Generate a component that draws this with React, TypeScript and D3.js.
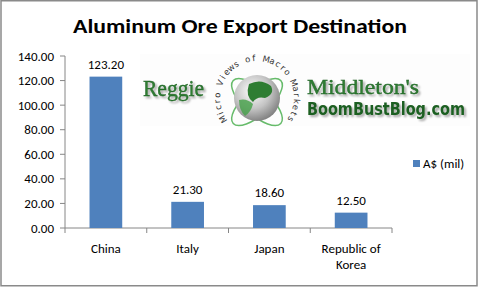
import React from "react";
import * as d3 from "d3";

const categories = ["China", "Italy", "Japan", "Republic of Korea"];
const values = [123.2, 21.3, 18.6, 12.5];
const yTicks = [0, 20, 40, 60, 80, 100, 120, 140];
const seriesName = "A$ (mil)";
const title = "Aluminum Ore Export Destination";
const logoTagline = "Micro Views of Macro Markets";

const W = 480;
const H = 287;
const FONT = "Carlito, Lato, 'Open Sans', sans-serif";
const FS = 13;

export default function App() {
  const x = d3.scaleBand<string>().domain(categories).range([65, 392]).paddingInner(0.6).paddingOuter(0.3);
  const y = d3.scaleLinear().domain([0, 140]).range([228, 56]);
  const step = x.step();
  const blue = "#4f81bd";
  const green = "#2e7d32";
  const cx = 257, cy = 98;
  const arcR = 37;
  const chars = logoTagline.split("");
  const angScale = d3.scaleLinear().domain([0, chars.length - 1]).range([212, -32]);

  return (
    <svg width={W} height={H} style={{ position: "absolute", left: 0, top: 0, background: "#fff" }}>
      <defs>
        <radialGradient id="globe" cx="40%" cy="35%" r="70%">
          <stop offset="0%" stopColor="#ffffff" />
          <stop offset="55%" stopColor="#c4c4c4" />
          <stop offset="100%" stopColor="#7a7a7a" />
        </radialGradient>
        <filter id="shadow" x="-20%" y="-40%" width="140%" height="180%">
          <feGaussianBlur in="SourceAlpha" stdDeviation="1" />
          <feOffset dx="1.5" dy="1.5" result="b" />
          <feComponentTransfer><feFuncA type="linear" slope="0.35" /></feComponentTransfer>
          <feMerge><feMergeNode /><feMergeNode in="SourceGraphic" /></feMerge>
        </filter>
      </defs>
      <rect x={0} y={0} width={W} height={H} fill="#fff" />
      <rect x={1} y={0.75} width={476} height={285} fill="none" stroke="#8a8a8a" strokeWidth={1.5} />

      <text x={240} y={33} textAnchor="middle" fontFamily={FONT} fontWeight="bold" fontSize={20} textLength={334} lengthAdjust="spacingAndGlyphs" fill="#000">
        {title}
      </text>

      {/* Watermark logo */}
      <g>
        <rect x={140} y={54} width={330} height={72} fill="#fdfdfd" />
        <text x={143} y={96} fontFamily="'Liberation Serif', 'DejaVu Serif', serif" fontSize={24} fill={green} stroke="#1b5e20" strokeWidth={0.4} textLength={61} lengthAdjust="spacingAndGlyphs" filter="url(#shadow)">Reggie</text>
        <ellipse cx={cx} cy={cy + 4} rx={32} ry={13} transform={`rotate(42 ${cx} ${cy + 4})`} fill="none" stroke="#66bb6a" strokeWidth={1.5} />
        <ellipse cx={cx} cy={cy + 4} rx={32} ry={13} transform={`rotate(-42 ${cx} ${cy + 4})`} fill="none" stroke="#66bb6a" strokeWidth={1.5} />
        <circle cx={cx} cy={cy} r={23} fill="url(#globe)" />
        <path d={`M ${cx - 8} ${cy - 14} q 12 -6 22 2 q 4 8 -6 12 q -8 -2 -12 4 q -8 -6 -4 -18 z`} fill="#2e7d32" />
        <path d={`M ${cx - 18} ${cy + 2} q 8 -2 14 4 q -2 8 -8 12 q -6 -6 -6 -16 z`} fill="#43a047" opacity={0.8} />
        {chars.map((ch, i) => {
          const a = angScale(i);
          const rad = (a * Math.PI) / 180;
          const px = cx + arcR * Math.cos(rad);
          const py = cy - arcR * Math.sin(rad);
          return (
            <text key={i} x={px} y={py} transform={`rotate(${90 - a} ${px} ${py})`} textAnchor="middle" fontFamily="'DejaVu Sans', sans-serif" fontSize={8.5} fill="#333">
              {ch}
            </text>
          );
        })}
        <text x={307} y={94} fontFamily="'Liberation Serif', 'DejaVu Serif', serif" fontSize={22} fill={green} stroke="#1b5e20" strokeWidth={0.4} textLength={112} lengthAdjust="spacingAndGlyphs" filter="url(#shadow)">Middleton's</text>
        <text x={307} y={115} fontFamily="'DejaVu Sans Condensed', 'DejaVu Sans', sans-serif" fontWeight="bold" fontSize={18.5} fill="#1b5e20" textLength={158} lengthAdjust="spacingAndGlyphs" filter="url(#shadow)">BoomBustBlog.com</text>
      </g>

      {/* Y axis */}
      <line x1={65} x2={65} y1={y(140)} y2={y(0)} stroke="#868686" />
      {yTicks.map((t) => (
        <g key={t}>
          <line x1={60} x2={65} y1={y(t)} y2={y(t)} stroke="#868686" />
          <text x={54} y={y(t) + 4.5} textAnchor="end" fontFamily={FONT} fontSize={FS} fill="#000">
            {t.toFixed(2)}
          </text>
        </g>
      ))}

      {/* X axis */}
      <line x1={65} x2={392} y1={y(0)} y2={y(0)} stroke="#868686" />
      {[0, 1, 2, 3, 4].map((i) => (
        <line key={i} x1={65 + i * step} x2={65 + i * step} y1={y(0)} y2={y(0) + 5} stroke="#868686" />
      ))}

      {categories.map((c, i) => {
        const bx = x(c)!;
        const bw = x.bandwidth();
        const mid = bx + bw / 2;
        const words = c === "Republic of Korea" ? ["Republic of", "Korea"] : [c];
        return (
          <g key={c}>
            <rect x={bx} y={y(values[i])} width={bw} height={y(0) - y(values[i])} fill={blue} />
            <text x={mid} y={y(values[i]) - 8} textAnchor="middle" fontFamily={FONT} fontSize={FS} fill="#000">
              {values[i].toFixed(2)}
            </text>
            {words.map((w, j) => (
              <text key={w} x={mid} y={253 + j * 16} textAnchor="middle" fontFamily={FONT} fontSize={FS} fill="#000">
                {w}
              </text>
            ))}
          </g>
        );
      })}

      {/* Legend */}
      <rect x={413} y={160} width={7} height={7} fill={blue} />
      <text x={423} y={168} fontFamily={FONT} fontSize={FS} fill="#000">{seriesName}</text>
    </svg>
  );
}
